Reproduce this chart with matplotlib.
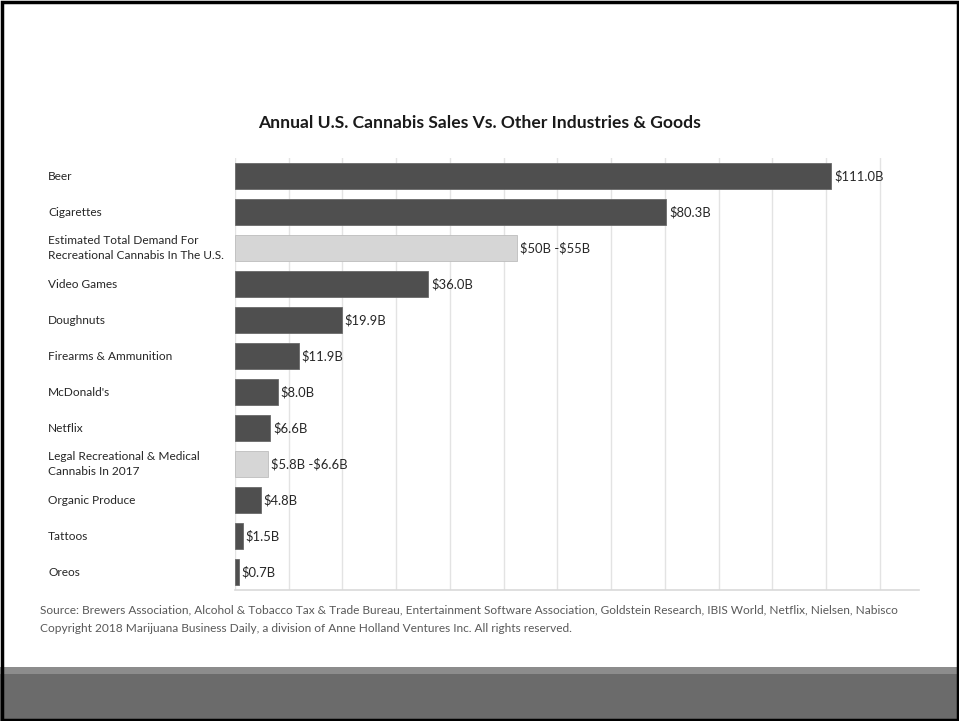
import matplotlib
matplotlib.use("Agg")
import matplotlib.pyplot as plt
from matplotlib.patches import Rectangle

plt.rcParams['font.family'] = ['Lato', 'DejaVu Sans']
plt.rcParams['text.parse_math'] = False

categories = ["Beer", "Cigarettes",
              "Estimated Total Demand For\nRecreational Cannabis In The U.S.",
              "Video Games", "Doughnuts", "Firearms & Ammunition", "McDonald's",
              "Netflix", "Legal Recreational & Medical\nCannabis In 2017",
              "Organic Produce", "Tattoos", "Oreos"]
values = [111.0, 80.3, 52.5, 36.0, 19.9, 11.9, 8.0, 6.6, 6.2, 4.8, 1.5, 0.7]
value_labels = ["$111.0B", "$80.3B", "$50B -$55B", "$36.0B", "$19.9B", "$11.9B",
                "$8.0B", "$6.6B", "$5.8B -$6.6B", "$4.8B", "$1.5B", "$0.7B"]
is_cannabis = [False, False, True, False, False, False, False, False, True, False, False, False]
grid_ticks = list(range(0, 121, 10))

W, H = 959, 721
fig = plt.figure(figsize=(W / 100, H / 100), dpi=100)
fig.patch.set_facecolor("white")

# plot area
left, right, top, bottom = 235, 919, 158, 590
ax = fig.add_axes([left / W, 1 - bottom / H, (right - left) / W, (bottom - top) / H])
ax.set_facecolor("white")

dark = "#4f4f4f"
light = "#d6d6d6"
colors = [light if c else dark for c in is_cannabis]
ypos = list(range(len(categories)))
ax.barh(ypos, values, height=0.74, color=colors,
        edgecolor=["#bdbdbd" if c else "#6a6a6a" for c in is_cannabis],
        linewidth=0.6, zorder=2)

xmax = 127.3
ax.set_xlim(0, xmax)
ax.set_ylim(len(categories) - 0.5, -0.5)
ax.set_xticks(grid_ticks)
ax.xaxis.grid(True, color="#e3e3e3", linewidth=1.0, zorder=0)
ax.set_axisbelow(True)
ax.tick_params(axis="both", length=0, labelbottom=False, labelleft=False)
for s in ["top", "right", "left"]:
    ax.spines[s].set_visible(False)
ax.spines["bottom"].set_color("#d9d9d9")
ax.spines["bottom"].set_linewidth(1.2)

for y, v, lab in zip(ypos, values, value_labels):
    ax.text(v + 0.5, y, lab, va="center", ha="left", fontsize=9.4, color="#262626")

for y, cat in zip(ypos, categories):
    ax.text(-187 / (right - left) * xmax, y, cat, va="center", ha="left",
            fontsize=8.6, color="#262626", linespacing=1.35, clip_on=False)

fig.text(480 / W, 1 - 123 / H, "Annual U.S. Cannabis Sales Vs. Other Industries & Goods",
         ha="center", va="center", fontsize=12.6, fontweight="bold", color="#1a1a1a")

fig.text(40 / W, 1 - 610 / H,
         "Source: Brewers Association, Alcohol & Tobacco Tax & Trade Bureau, Entertainment Software Association, "
         "Goldstein Research, IBIS World, Netflix, Nielsen, Nabisco",
         ha="left", va="center", fontsize=8.6, color="#595959")
fig.text(40 / W, 1 - 629 / H,
         "Copyright 2018 Marijuana Business Daily, a division of Anne Holland Ventures Inc. All rights reserved.",
         ha="left", va="center", fontsize=8.6, color="#595959")

# bottom band
fig.patches.append(Rectangle((0, 0), 1, (H - 667) / H, transform=fig.transFigure,
                             facecolor="#8c8c8c", edgecolor="none", zorder=0))
fig.patches.append(Rectangle((0, 0), 1, (H - 674) / H, transform=fig.transFigure,
                             facecolor="#6b6b6b", edgecolor="none", zorder=0))
# outer border
fig.patches.append(Rectangle((1.5 / W, 1.5 / H), 1 - 3 / W, 1 - 3 / H, transform=fig.transFigure,
                             facecolor="none", edgecolor="black", linewidth=2.5, zorder=5))

fig.savefig("out.png", dpi=100, facecolor="white")
